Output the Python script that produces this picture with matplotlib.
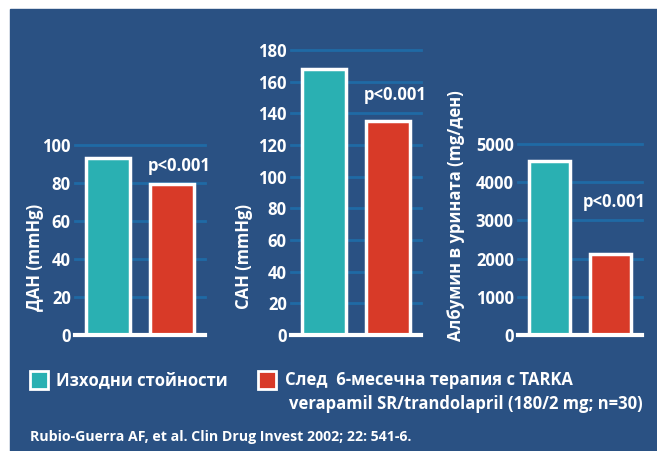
import matplotlib
matplotlib.use("Agg")
import matplotlib.pyplot as plt
from matplotlib.patches import Rectangle

# values
groups = ["Изходни стойности", "След  6-месечна терапия с TARKA"]
dan = [93, 79.5]
san = [168, 135]
albumin = [4550, 2120]

ylabels = ["ДАН (mmHg)", "САН (mmHg)", "Албумин в урината (mg/ден)"]
yticks = [[0, 20, 40, 60, 80, 100],
          [0, 20, 40, 60, 80, 100, 120, 140, 160, 180],
          [0, 1000, 2000, 3000, 4000, 5000]]
ptext = "p<0.001"

BG = "#2a5183"
TEAL = "#2ab0b2"
RED = "#d83a28"
GRID = "#1f6aa5"
WHITE = "white"

plt.rcParams["font.family"] = ["Open Sans", "DejaVu Sans"]

W, H = 657, 451
fig = plt.figure(figsize=(W / 100, H / 100), dpi=100)
fig.patch.set_facecolor("white")
fig.patches.append(Rectangle((10 / W, 0), 1 - 10 / W, 1 - 9 / H,
                             transform=fig.transFigure, color=BG, zorder=-5))


def px(x, y, w, h):
    return [x / W, 1 - (y + h) / H, w / W, h / H]


# panel boxes in pixels: left, top, width, height (bottom at y=335)
boxes = [px(75, 145, 130, 190), px(291, 50, 130, 285), px(518, 144, 124, 191)]
data = [dan, san, albumin]
ptext_pos = [(1.11, 89), (1.12, 151.5), (1.06, 3480)]
label_x = [35, 244, 456]
label_bottom = [311, 309, 341]

for i in range(3):
    ax = fig.add_axes(boxes[i])
    ax.set_facecolor("none")
    vals = data[i]
    ymax = yticks[i][-1]
    for t in yticks[i][1:]:
        ax.axhline(t, color=GRID, lw=2, zorder=1, clip_on=False)
    ax.bar([0, 1], vals, width=0.68, color=[TEAL, RED],
           edgecolor=WHITE, linewidth=2.5, zorder=2)
    ax.axhline(0, color=WHITE, lw=3, zorder=3, clip_on=False)
    ax.set_xlim(-0.52, 1.52)
    ax.set_ylim(0, ymax)
    ax.set_xticks([])
    ax.set_yticks(yticks[i])
    ax.tick_params(axis="y", length=0, pad=3, labelcolor=WHITE, labelsize=12)
    for lab in ax.get_yticklabels():
        lab.set_fontweight("bold")
    for s in ax.spines.values():
        s.set_visible(False)
    ax.text(ptext_pos[i][0], ptext_pos[i][1], ptext, color=WHITE,
            fontsize=12, fontweight="bold", ha="center", va="center")
    fig.text(label_x[i] / W, 1 - label_bottom[i] / H, ylabels[i],
             rotation=90, ha="center", va="bottom", color=WHITE,
             fontsize=12, fontweight="bold")

# legend
fig.patches.append(Rectangle((30 / W, 1 - 389 / H), 18 / W, 18 / H,
                             transform=fig.transFigure, facecolor=TEAL,
                             edgecolor=WHITE, lw=2, zorder=2))
fig.patches.append(Rectangle((258 / W, 1 - 389 / H), 18 / W, 18 / H,
                             transform=fig.transFigure, facecolor=RED,
                             edgecolor=WHITE, lw=2, zorder=2))
fig.text(56 / W, 1 - 380 / H, groups[0], color=WHITE, fontsize=12,
         fontweight="bold", va="center", ha="left")
fig.text(285 / W, 1 - 380 / H, groups[1], color=WHITE,
         fontsize=12, fontweight="bold", va="center", ha="left")
fig.text(289 / W, 1 - 404 / H, "verapamil SR/trandolapril (180/2 mg; n=30)",
         color=WHITE, fontsize=12, fontweight="bold",
         va="center", ha="left")
fig.text(30 / W, 1 - 437 / H,
         "Rubio-Guerra AF, et al. Clin Drug Invest 2002; 22: 541-6.",
         color=WHITE, fontsize=10.2, fontweight="bold",
         va="center", ha="left")

fig.savefig("out.png", dpi=100, facecolor=fig.get_facecolor())
